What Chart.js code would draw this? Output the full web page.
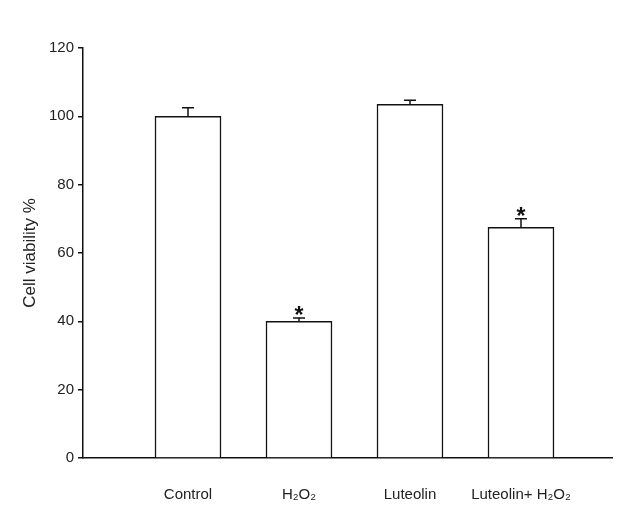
<!DOCTYPE html>
<html>
<head>
<meta charset="utf-8">
<script src="https://cdn.jsdelivr.net/npm/chart.js@4"></script>
<style>
  html, body { margin: 0; padding: 0; background: #fff; }
  #wrap { width: 630px; height: 519px; }
</style>
</head>
<body>
<div id="wrap"><canvas id="viability"></canvas></div>
<script>
const groups = ["Control", "H₂O₂", "Luteolin", "Luteolin+ H₂O₂"];
const positions = [1, 2, 3, 4];
const viability = [100, 40, 103.5, 67.5];
const errors = [2.5, 1, 1.2, 2.5];
const significant = [false, true, false, true];
const yTicks = [0, 20, 40, 60, 80, 100, 120];

// error bars and asterisks, drawn through the scales
const errorBars = {
  id: "errorBars",
  afterDatasetsDraw(chart) {
    const ctx = chart.ctx;
    const x = chart.scales.x;
    const y = chart.scales.y;
    ctx.save();
    ctx.strokeStyle = "#111";
    ctx.lineWidth = 1.5;
    viability.forEach((v, i) => {
      const px = x.getPixelForValue(positions[i]);
      const top = y.getPixelForValue(v + errors[i]);
      const base = y.getPixelForValue(v);
      ctx.beginPath();
      ctx.moveTo(px, base);
      ctx.lineTo(px, top);
      ctx.moveTo(px - 6, top);
      ctx.lineTo(px + 6, top);
      ctx.stroke();
      if (significant[i]) {
        ctx.fillStyle = "#111";
        ctx.font = "bold 23px 'Liberation Sans', Arial, sans-serif";
        ctx.textAlign = "center";
        ctx.textBaseline = "alphabetic";
        ctx.fillText("*", px, top + 5);
      }
    });
    ctx.restore();
  },
};

new Chart(document.getElementById("viability"), {
  type: "bar",
  data: {
    datasets: [
      {
        data: positions.map((p, i) => ({ x: p, y: viability[i] })),
        backgroundColor: "#fff",
        borderColor: "#111",
        borderWidth: 1.5,
        barThickness: 66,
      },
    ],
  },
  options: {
    responsive: true,
    maintainAspectRatio: false,
    animation: false,
    layout: { padding: { top: 48, right: 18, left: 0, bottom: 0 } },
    plugins: {
      legend: { display: false },
      tooltip: { enabled: false },
    },
    scales: {
      x: {
        type: "linear",
        offset: false,
        min: 0.054,
        max: 4.82,
        afterBuildTicks: (scale) => {
          scale.ticks = positions.map((p) => ({ value: p }));
        },
        afterFit: (scale) => {
          scale.height = 61;
        },
        ticks: {
          autoSkip: false,
          maxRotation: 0,
          padding: 20,
          color: "#222",
          font: { family: "'Liberation Sans', Arial, sans-serif", size: 15 },
          callback: (v) => groups[positions.indexOf(v)] || "",
        },
        grid: { display: false },
        border: { display: true, color: "#111", width: 1.5 },
      },
      y: {
        min: 0,
        max: 120,
        afterBuildTicks: (scale) => {
          scale.ticks = yTicks.map((v) => ({ value: v }));
        },
        afterFit: (scale) => {
          scale.width = 83;
        },
        ticks: {
          padding: 4,
          color: "#222",
          font: { family: "'Liberation Sans', Arial, sans-serif", size: 15 },
        },
        grid: {
          drawOnChartArea: false,
          drawTicks: true,
          tickLength: 5,
          color: "#111",
          lineWidth: 1.5,
        },
        border: { display: true, color: "#111", width: 1.5 },
        title: {
          display: true,
          text: "Cell viability %",
          color: "#222",
          padding: { top: 20, bottom: 0 },
          font: { family: "'Liberation Sans', Arial, sans-serif", size: 17 },
        },
      },
    },
  },
  plugins: [errorBars],
});
</script>
</body>
</html>
